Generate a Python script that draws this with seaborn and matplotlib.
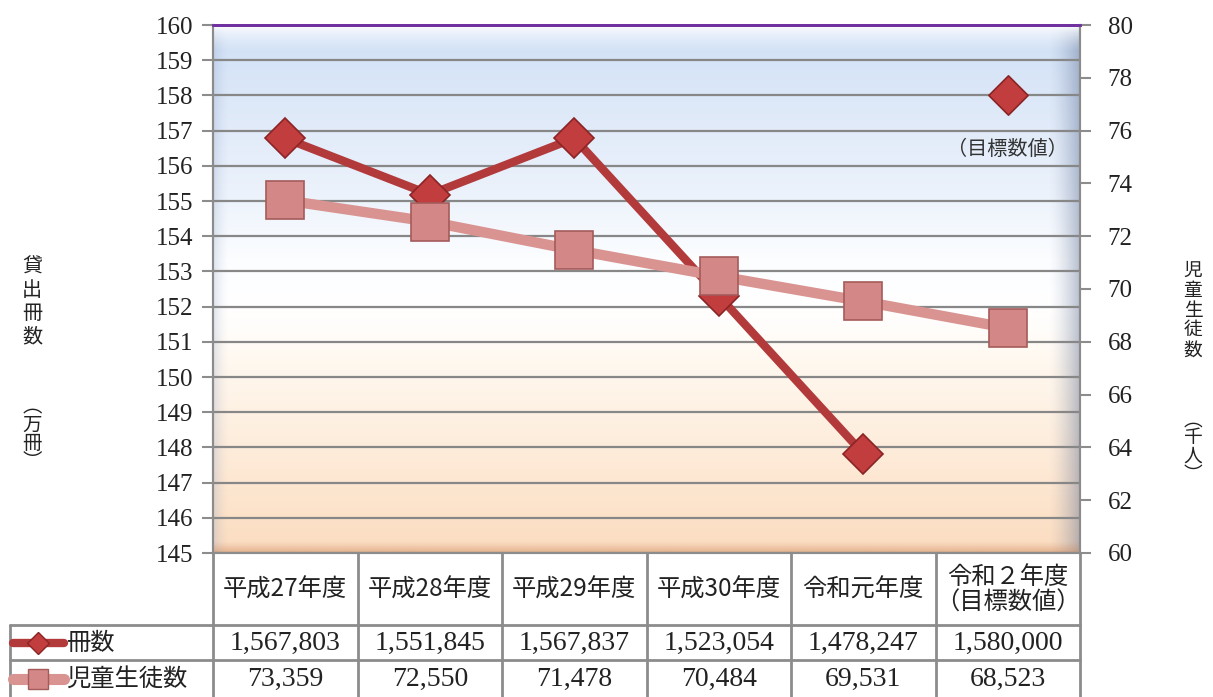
import numpy as np
import pandas as pd
import matplotlib
matplotlib.use('Agg')
import matplotlib.pyplot as plt
import seaborn as sns
from matplotlib.colors import LinearSegmentedColormap

# ---------------- data ----------------
categories = ['平成27年度', '平成28年度', '平成29年度', '平成30年度', '令和元年度', '令和２年度\n（目標数値）']
books = [1567803, 1551845, 1567837, 1523054, 1478247, 1580000]      # 冊数
students = [73359, 72550, 71478, 70484, 69531, 68523]               # 児童生徒数
books_label = '冊数'
students_label = '児童生徒数'
left_ticks = list(range(145, 161))
right_ticks = list(range(60, 81, 2))
target_note = '（目標数値）'
left_title = '貸出冊数'
left_unit = '︵万冊︶'
right_title = '児童生徒数'
right_unit = '︵千人︶'

df = pd.DataFrame({
    'x': np.arange(len(categories)),
    'books': np.array(books) / 1e4,
    'students': np.array(students) / 1e3,
})

# ---------------- style ----------------
sns.set_theme(style='white')
plt.rcParams['font.family'] = ['Noto Sans CJK JP', 'DejaVu Sans']
NUMFONT = ['Liberation Serif', 'Noto Sans CJK JP']
TXT = '#222222'

W, H = 1213, 697
L, R, T, B = 213, 1080, 25, 553
fig = plt.figure(figsize=(W / 100, H / 100), dpi=100)
fig.patch.set_facecolor('white')
ax = fig.add_axes([L / W, 1 - B / H, (R - L) / W, (B - T) / H])

c_books = '#b23a3b'
c_books_m = '#c23d3e'
c_stud = '#d99492'
c_stud_m = '#d38786'
grid_c = '#878787'

# background gradient
cmap = LinearSegmentedColormap.from_list('bg', [
    (0.0, '#fbdcc0'), (0.12, '#fde6d0'), (0.26, '#fef1e3'), (0.36, '#fff8ef'),
    (0.42, '#fffdfa'), (0.47, '#ffffff'), (0.56, '#fbfdff'), (0.7, '#eaf1fb'),
    (0.88, '#dbe7f8'), (1.0, '#d0e0f6')])
grad = np.linspace(0, 1, 256).reshape(-1, 1)
ax.imshow(grad, cmap=cmap, aspect='auto', origin='lower', extent=[0, 1, 0, 1],
          transform=ax.transAxes, zorder=0)
# bevel edges
n = 64
ramp = np.linspace(1, 0, n)
def strip(color, alpha, orient, power=1.5):
    rgba = np.zeros((1, n, 4)) if orient == 'h' else np.zeros((n, 1, 4))
    rgba[..., :3] = matplotlib.colors.to_rgb(color)
    rgba[..., 3] = (ramp ** power * alpha).reshape(rgba.shape[:2])
    return rgba
pw, ph = R - L, B - T
ax.imshow(strip('#56698e', 0.42, 'h')[:, ::-1], aspect='auto', extent=[1 - 32 / pw, 1, 0, 1],
          transform=ax.transAxes, zorder=0.5)
ax.imshow(strip('#8096bd', 0.25, 'h'), aspect='auto', extent=[0, 16 / pw, 0, 1],
          transform=ax.transAxes, zorder=0.5)
ax.imshow(strip('#ffffff', 0.95, 'v'), aspect='auto', extent=[0, 1, 1 - 28 / ph, 1],
          transform=ax.transAxes, zorder=0.5, origin='upper')
ax.imshow(strip('#c88358', 0.5, 'v', 1.2), aspect='auto', extent=[0, 1, 0, 12 / ph],
          transform=ax.transAxes, zorder=0.5, origin='lower')

ax.set_xlim(-0.5, len(categories) - 0.5)
ax.set_ylim(left_ticks[0], left_ticks[-1])
ax.set_yticks(left_ticks)
ax.set_xticks([])
ax.yaxis.grid(True, color=grid_c, lw=1.6, zorder=1)
ax.set_axisbelow(True)

# books series (first five connected, target separate)
sns.lineplot(data=df.iloc[:5], x='x', y='books', ax=ax, color=c_books, lw=6,
             marker='D', markersize=20, markerfacecolor=c_books_m, markeredgecolor='#8a2425',
             markeredgewidth=1.2, zorder=4)
sns.scatterplot(data=df.iloc[5:], x='x', y='books', ax=ax, color=c_books_m, marker='D',
                s=20 ** 2, edgecolor='#8a2425', linewidth=1.2, zorder=4)
ax.annotate(target_note, (df['x'].iloc[5], df['books'].iloc[5]), xytext=(0, -39),
            textcoords='offset points', ha='center', va='center', fontsize=14.5, color='#333333')
ax.set_xlabel('')
ax.set_ylabel('')

ax2 = ax.twinx()
sns.lineplot(data=df, x='x', y='students', ax=ax2, color=c_stud, lw=7.5,
             marker='s', markersize=27, markerfacecolor=c_stud_m, markeredgecolor='#a55b5a',
             markeredgewidth=1.2, zorder=5)
ax2.set_ylim(right_ticks[0], right_ticks[-1])
ax2.set_yticks(right_ticks)
ax2.set_xlabel('')
ax2.set_ylabel('')
ax2.set_xlim(-0.5, len(categories) - 0.5)

for a in (ax, ax2):
    for s in ('left', 'right', 'bottom'):
        a.spines[s].set_color('#8c8c8c')
        a.spines[s].set_linewidth(1.5)
    a.spines['top'].set_color('#7030a0')
    a.spines['top'].set_linewidth(2)
ax.tick_params(axis='y', direction='out', length=8, width=1.5, color='#8c8c8c',
               labelsize=18, pad=6, labelcolor=TXT, left=True)
ax2.tick_params(axis='y', direction='out', length=8, width=1.5, color='#8c8c8c',
                labelsize=18, pad=12, labelcolor=TXT, right=True)
for lab in ax.get_yticklabels() + ax2.get_yticklabels():
    lab.set_fontfamily(NUMFONT)

# axis titles (vertical, stacked)
fig.text(32 / W, 1 - 302 / H, '\n'.join(left_title), ha='center', va='center',
         fontsize=14.5, color=TXT, linespacing=1.12)
fig.text(32 / W, 1 - 434 / H, '\n'.join(left_unit), ha='center', va='center',
         fontsize=14, color=TXT, linespacing=0.82)
fig.text(1193 / W, 1 - 310 / H, '\n'.join(right_title), ha='center', va='center',
         fontsize=13.5, color=TXT, linespacing=0.93)
fig.text(1193 / W, 1 - 447 / H, '\n'.join(right_unit), ha='center', va='center',
         fontsize=13.5, color=TXT, linespacing=0.82)

# ---------------- data table ----------------
tax = fig.add_axes([0, 0, 1, 1], zorder=-1)
tax.set_xlim(0, W)
tax.set_ylim(H, 0)
tax.axis('off')
bounds = [ax.transData.transform((i - 0.5, left_ticks[0]))[0] for i in range(len(categories) + 1)]
centers = [(bounds[i] + bounds[i + 1]) / 2 for i in range(len(categories))]
tbl_left = 10
y_head_bot, y_r1_bot, y_r2_bot = 625, 660, 699
lc = '#8c8c8c'
lw = 2
for xb in bounds:
    tax.plot([xb, xb], [B, y_r2_bot], color=lc, lw=lw)
tax.plot([tbl_left, tbl_left], [y_head_bot, y_r2_bot], color=lc, lw=lw)
for yb in (y_head_bot, y_r1_bot):
    tax.plot([tbl_left, bounds[-1]], [yb, yb], color=lc, lw=lw)
for cx, cat in zip(centers, categories):
    tax.text(cx, (B + y_head_bot) / 2 + 1, cat, ha='center', va='center', fontsize=17.5,
             color=TXT, linespacing=1.0)
y1 = (y_head_bot + y_r1_bot) / 2
y2 = (y_r1_bot + y_r2_bot) / 2 - 1
for cx, v in zip(centers, books):
    tax.text(cx, y1 + 1, f'{v:,}', ha='center', va='center', fontsize=20, color=TXT,
             fontfamily=NUMFONT)
for cx, v in zip(centers, students):
    tax.text(cx, y2 + 1, f'{v:,}', ha='center', va='center', fontsize=20, color=TXT,
             fontfamily=NUMFONT)
# legend keys
tax.plot([13, 64], [y1, y1], color=c_books, lw=6, solid_capstyle='round')
tax.plot([38], [y1], marker='D', ms=11, color=c_books_m, mec='#8a2425', mew=1)
tax.plot([13, 64], [y2, y2], color=c_stud, lw=8, solid_capstyle='round')
tax.plot([38], [y2], marker='s', ms=15, color=c_stud_m, mec='#a55b5a', mew=1)
tax.text(66, y1, books_label, ha='left', va='center', fontsize=17.5, color=TXT)
tax.text(66, y2, students_label, ha='left', va='center', fontsize=17.5, color=TXT)

fig.savefig('out.png', dpi=100)
